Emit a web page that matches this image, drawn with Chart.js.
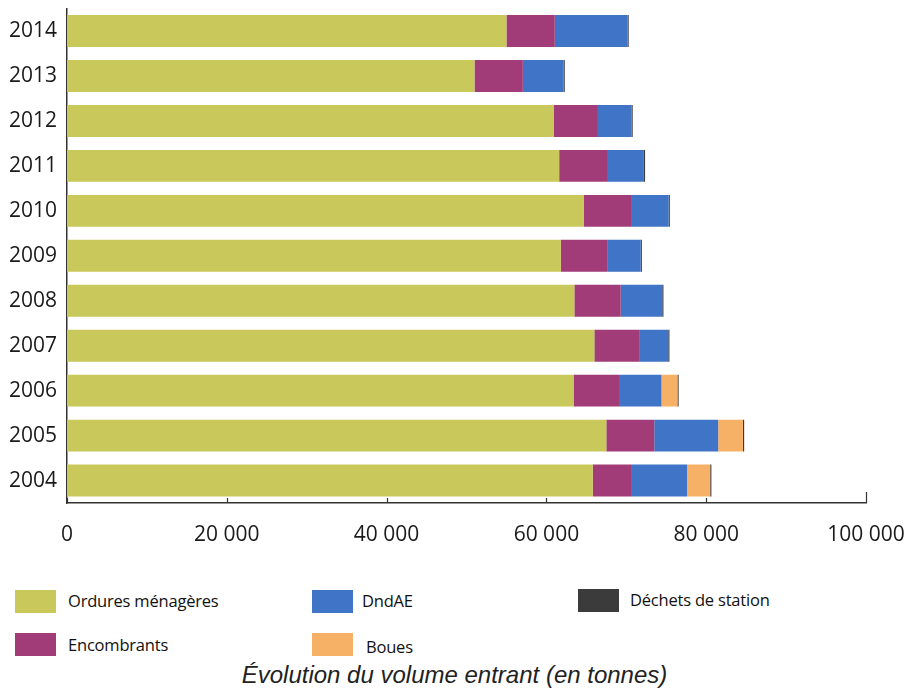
<!DOCTYPE html>
<html lang="fr">
<head>
<meta charset="utf-8">
<script src="https://cdn.jsdelivr.net/npm/chart.js@4/dist/chart.umd.min.js"></script>
<style>
  html, body { margin: 0; padding: 0; background: #fff; }
  body { width: 909px; height: 690px; position: relative; overflow: hidden; font-family: "Open Sans", "Noto Sans", sans-serif; }
  #wrap { position: absolute; left: 0; top: -6px; width: 909px; height: 560px; }
  .sw { position: absolute; width: 41px; height: 23px; }
  .lb { position: absolute; font-size: 16.5px; color: #111; line-height: 20px; letter-spacing: -0.2px; }
  #title { position: absolute; left: 0; width: 909px; top: 661px; text-align: center;
           font-family: "Liberation Sans", Arial, sans-serif; font-style: italic; font-size: 24px; color: #222; }
</style>
</head>
<body>
<div id="wrap"><canvas id="c" width="909" height="560"></canvas></div>

<div class="sw" style="left:15px; top:590px; background:#c9c85a"></div>
<div class="lb" style="left:68px; top:591px">Ordures ménagères</div>
<div class="sw" style="left:312px; top:590px; background:#3f74c6"></div>
<div class="lb" style="left:362px; top:591px">DndAE</div>
<div class="sw" style="left:578px; top:589px; background:#3b3b3b"></div>
<div class="lb" style="left:630px; top:590px">Déchets de station</div>
<div class="sw" style="left:15px; top:633px; background:#a13c78"></div>
<div class="lb" style="left:68px; top:635px">Encombrants</div>
<div class="sw" style="left:312px; top:633px; background:#f6b166"></div>
<div class="lb" style="left:366px; top:637px">Boues</div>

<div id="title">Évolution du volume entrant (en tonnes)</div>

<script>
// Tonnes received per year, by waste stream (top row = most recent year)
const years = ['2014', '2013', '2012', '2011', '2010', '2009', '2008', '2007', '2006', '2005', '2004'];
const orduresMenageres = [55000, 51000, 60900, 61600, 64700, 61800, 63500, 66000, 63400, 67500, 65800];
const encombrants      = [6050, 6050, 5550, 6100, 6000, 5800, 5800, 5600, 5800, 6000, 4900];
const dndae            = [9100, 5100, 4200, 4500, 4600, 4200, 5200, 3650, 5200, 8000, 6900];
const boues            = [0, 0, 0, 0, 0, 0, 0, 0, 2000, 3100, 2900];
const dechetsStation   = [150, 150, 150, 150, 150, 150, 150, 150, 150, 150, 150];
const xTicks = [0, 20000, 40000, 60000, 80000, 100000];

const fmt = v => String(v).replace(/\B(?=(\d{3})+(?!\d))/g, ' ');

// small tick marks pointing up into the plot from the x axis
const innerTicks = {
  id: 'innerTicks',
  afterDraw(chart) {
    const { ctx, scales: { x }, chartArea } = chart;
    ctx.save();
    ctx.strokeStyle = '#333';
    ctx.lineWidth = 1.2;
    xTicks.forEach(v => {
      const px = Math.round(x.getPixelForValue(v)) + 0.5;
      const len = v === 100000 ? 11 : 5;
      ctx.beginPath();
      ctx.moveTo(px, chartArea.bottom);
      ctx.lineTo(px, chartArea.bottom - len);
      ctx.stroke();
    });
    ctx.restore();
  }
};

new Chart(document.getElementById('c'), {
  type: 'bar',
  data: {
    labels: years,
    datasets: [
      { label: 'Ordures ménagères', data: orduresMenageres, backgroundColor: '#c9c85a' },
      { label: 'Encombrants', data: encombrants, backgroundColor: '#a13c78' },
      { label: 'DndAE', data: dndae, backgroundColor: '#3f74c6' },
      { label: 'Boues', data: boues, backgroundColor: '#f6b166' },
      { label: 'Déchets de station', data: dechetsStation, backgroundColor: '#3b3b3b' }
    ]
  },
  options: {
    indexAxis: 'y',
    responsive: false,
    animation: false,
    layout: { padding: { top: 1, right: 43, left: 0, bottom: 0 } },
    datasets: { bar: { categoryPercentage: 0.71, barPercentage: 1, borderWidth: 0 } },
    plugins: { legend: { display: false }, tooltip: { enabled: false } },
    scales: {
      x: {
        stacked: true,
        min: 0, max: 100000,
        afterBuildTicks: s => { s.ticks = xTicks.map(v => ({ value: v })); },
        afterFit: s => { s.height = 51; s.paddingRight = 0; s.paddingLeft = 0; },
        grid: { display: false },
        border: { display: true, color: '#333', width: 1.5 },
        ticks: {
          padding: 11,
          color: '#1a1a1a',
          font: { family: 'Open Sans', size: 21 },
          maxRotation: 0,
          callback: v => fmt(v)
        }
      },
      y: {
        stacked: true,
        afterFit: s => { s.width = 67; },
        grid: { display: false },
        border: { display: true, color: '#333', width: 1.5 },
        ticks: {
          padding: 2,
          color: '#1a1a1a',
          font: { family: 'Open Sans', size: 21 }
        }
      }
    }
  },
  plugins: [innerTicks]
});
</script>
</body>
</html>
